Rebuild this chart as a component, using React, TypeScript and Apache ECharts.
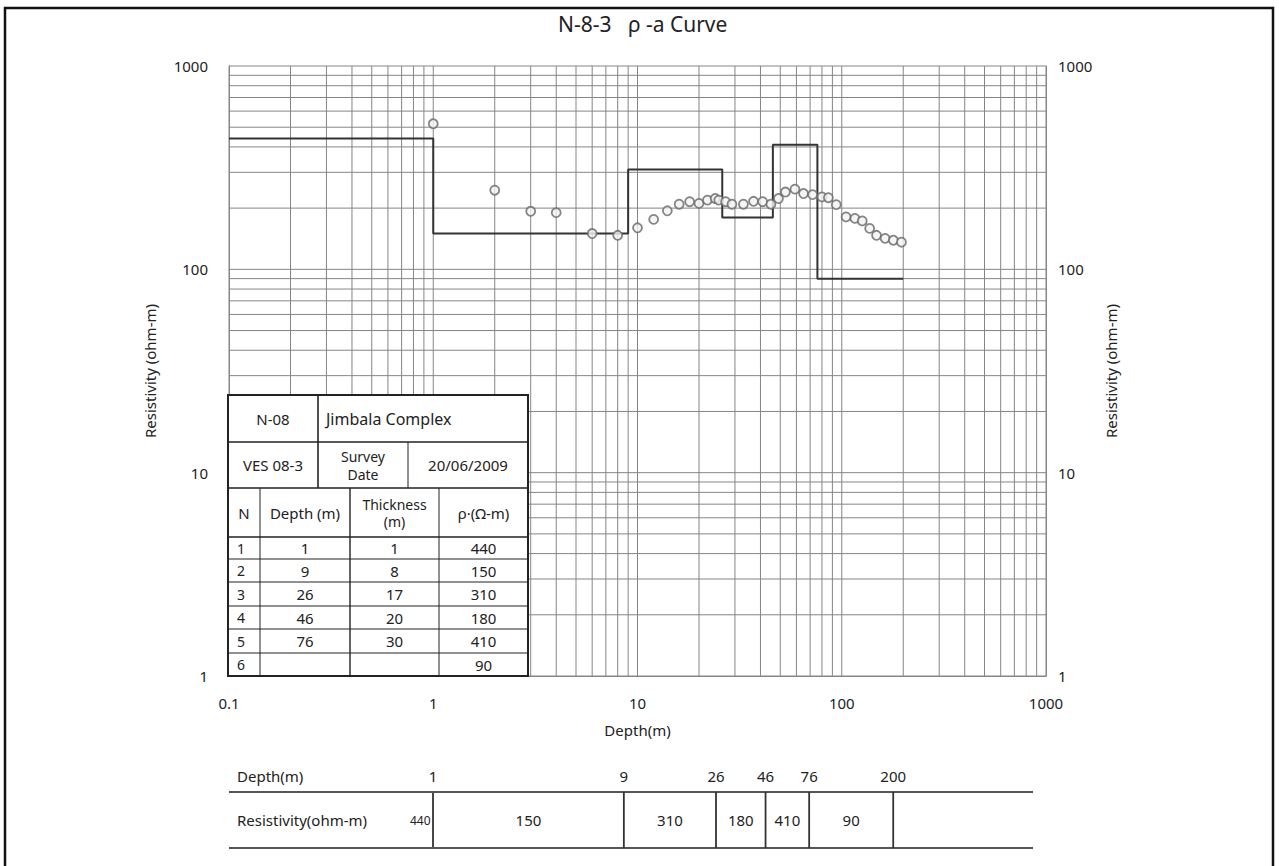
import React, { useEffect, useRef } from "react";
import * as echarts from "echarts";

// ---------- data ----------
const TITLE = "N-8-3   ρ -a Curve";
const X_MIN = 0.1;
const X_MAX = 1000;
const Y_MIN = 1;
const Y_MAX = 1000;

// layered model (table)
const LAYER_N = [1, 2, 3, 4, 5, 6];
const LAYER_DEPTH = [1, 9, 26, 46, 76]; // bottom depth of each layer (m)
const LAYER_THICK = [1, 8, 17, 20, 30];
const LAYER_RHO = [440, 150, 310, 180, 410, 90];
const MODEL_START = 0.1;
const MODEL_END = 200;

// observed apparent resistivity
const OBS_DEPTH = [1, 2, 3, 4, 6, 8, 10, 12, 14, 16, 18, 20, 22, 24, 25, 27, 29, 33, 37, 41, 45, 49, 53, 59, 65, 72, 80, 86, 94, 105, 116, 126, 137, 148, 163, 179, 196];
const OBS_RHO = [520, 245, 193, 190, 150, 147, 160, 176, 194, 209, 215, 211, 219, 223, 219, 215, 209, 209, 216, 215, 209, 223, 240, 248, 236, 233, 227, 225, 208, 181, 178, 173, 159, 147, 142, 139, 136];

const SITE = "N-08";
const SITE_NAME = "Jimbala Complex";
const VES = "VES 08-3";
const SURVEY_LABEL = "Survey\nDate";
const SURVEY_DATE = "20/06/2009";
const HEADERS = ["N", "Depth (m)", "Thickness\n(m)", "ρ·(Ω-m)"];

const FONT = "Noto Sans, Liberation Sans, Arial, sans-serif";
const TXT = "#222";

export default function App() {
  const ref = useRef<HTMLDivElement>(null);

  useEffect(() => {
    if (!ref.current) return;
    const chart = echarts.init(ref.current, null, { renderer: "svg" });

    // grid line positions (1..9 x decades)
    const vGrid: number[] = [];
    for (let e = -1; e < 3; e++) for (let m = 1; m <= 9; m++) vGrid.push(Number((m * Math.pow(10, e)).toPrecision(6)));
    vGrid.push(X_MAX);
    const hGrid: number[] = [];
    for (let e = 0; e < 3; e++) for (let m = 1; m <= 9; m++) hGrid.push(Number((m * Math.pow(10, e)).toPrecision(6)));
    hGrid.push(Y_MAX);

    // step model curve
    const bounds = [MODEL_START, ...LAYER_DEPTH, MODEL_END];
    const step: number[][] = [];
    LAYER_RHO.forEach((r, i) => {
      step.push([bounds[i], r]);
      step.push([bounds[i + 1], r]);
    });
    const obs = OBS_DEPTH.map((d, i) => [d, OBS_RHO[i]]);
    const bottomBounds = [...LAYER_DEPTH, MODEL_END];

    // ---- inset table (graphic) ----
    const g: any[] = [];
    const ln = (x1: number, y1: number, x2: number, y2: number, w = 1, c = "#222") =>
      g.push({ type: "line", z: 100, shape: { x1, y1, x2, y2 }, style: { stroke: c, lineWidth: w } });
    const tx = (x: number, y: number, text: string, align = "center", size = 15, lh = 18) =>
      g.push({
        type: "text", z: 101, x, y,
        style: { text, fill: TXT, font: `${size}px ${FONT}`, textAlign: align, textVerticalAlign: "middle", lineHeight: lh },
      });

    const TX0 = 228, TX1 = 528;
    const rows = [395, 442, 488, 537, 559, 582, 606, 629, 653, 676];
    g.push({ type: "rect", z: 99, shape: { x: TX0, y: rows[0], width: TX1 - TX0, height: rows[9] - rows[0] }, style: { fill: "#fff", stroke: "#222", lineWidth: 2 } });
    for (let i = 1; i < rows.length - 1; i++) ln(TX0, rows[i], TX1, rows[i], i <= 3 ? 1.6 : 1);
    ln(318, rows[0], 318, rows[2], 1.6);
    ln(408, rows[1], 408, rows[2], 1);
    [260, 350, 439].forEach((x) => ln(x, rows[2], x, rows[9], x === 350 ? 1.4 : 1));
    tx(273, (rows[0] + rows[1]) / 2, SITE);
    tx(326, (rows[0] + rows[1]) / 2, SITE_NAME, "left", 16);
    tx(273, (rows[1] + rows[2]) / 2, VES);
    tx(363, (rows[1] + rows[2]) / 2, SURVEY_LABEL, "center", 14, 18);
    tx(468, (rows[1] + rows[2]) / 2, SURVEY_DATE);
    const colC = [244, 305, 394.5, 483.5];
    HEADERS.forEach((h, i) => tx(colC[i], (rows[2] + rows[3]) / 2, h, "center", i === 2 ? 14 : 15, 17));
    LAYER_N.forEach((n, i) => {
      const y = (rows[3 + i] + rows[4 + i]) / 2;
      tx(237, y, String(n), "left", 14);
      if (i < LAYER_DEPTH.length) tx(colC[1], y, String(LAYER_DEPTH[i]), "center", 15);
      if (i < LAYER_THICK.length) tx(colC[2], y, String(LAYER_THICK[i]), "center", 15);
      tx(colC[3], y, String(LAYER_RHO[i]), "center", 15);
    });

    // bottom strip labels
    tx(237, 776, "Depth(m)", "left", 15);
    tx(237, 820, "Resistivity(ohm-m)", "left", 15);
    tx(410, 820, String(LAYER_RHO[0]), "left", 12);

    // outer frame
    g.push({ type: "rect", z: 90, shape: { x: 5, y: 8, width: 1268, height: 880 }, style: { fill: "none", stroke: "#111", lineWidth: 2.5 } });

    const axisLabel = { color: TXT, fontSize: 15, fontFamily: FONT, formatter: (v: number) => String(v) };
    const nameStyle = { color: TXT, fontSize: 15, fontFamily: FONT };

    chart.setOption({
      animation: false,
      backgroundColor: "#fff",
      title: {
        text: TITLE, left: 553, top: 8,
        textStyle: { fontSize: 21, fontWeight: "normal", color: TXT, fontFamily: FONT },
      },
      grid: [
        { left: 229, right: 233, top: 66, bottom: 190 },
        { left: 233, width: 800, top: 792, height: 56 },
      ],
      xAxis: [
        {
          type: "log", logBase: 10, min: X_MIN, max: X_MAX, gridIndex: 0,
          name: "Depth(m)", nameLocation: "middle", nameGap: 46, nameTextStyle: nameStyle,
          axisLine: { show: true, lineStyle: { color: "#888" } },
          axisTick: { show: false }, splitLine: { show: false },
          axisLabel: { ...axisLabel, margin: 19 },
        },
        {
          type: "log", logBase: 10, min: X_MIN, max: X_MAX, gridIndex: 1, show: false,
        },
      ],
      yAxis: [
        {
          type: "log", logBase: 10, min: Y_MIN, max: Y_MAX, gridIndex: 0, position: "left",
          name: "Resistivity (ohm-m)", nameLocation: "middle", nameGap: 72, nameTextStyle: nameStyle,
          axisLine: { show: true, lineStyle: { color: "#888" } },
          axisTick: { show: false }, splitLine: { show: false },
          axisLabel: { ...axisLabel, margin: 21 },
        },
        {
          type: "log", logBase: 10, min: Y_MIN, max: Y_MAX, gridIndex: 0, position: "right",
          name: "Resistivity (ohm-m)", nameLocation: "middle", nameGap: 52, nameTextStyle: nameStyle,
          axisLine: { show: true, lineStyle: { color: "#888" } },
          axisTick: { show: false }, splitLine: { show: false },
          axisLabel: { ...axisLabel, margin: 12 },
        },
        { type: "value", min: 0, max: 1, gridIndex: 1, show: false },
      ],
      graphic: g,
      series: [
        {
          type: "custom", xAxisIndex: 0, yAxisIndex: 0, silent: true, z: 1,
          data: vGrid.map((v) => [v, 10]),
          renderItem: (params: any, api: any) => {
            const cs = params.coordSys;
            const p = api.coord([api.value(0), 10]);
            return { type: "line", shape: { x1: p[0], y1: cs.y, x2: p[0], y2: cs.y + cs.height }, style: { stroke: "#858585", lineWidth: 1 } };
          },
        },
        {
          type: "custom", xAxisIndex: 0, yAxisIndex: 0, silent: true, z: 1,
          data: hGrid.map((v) => [1, v]),
          renderItem: (params: any, api: any) => {
            const cs = params.coordSys;
            const p = api.coord([1, api.value(1)]);
            return { type: "line", shape: { x1: cs.x, y1: p[1], x2: cs.x + cs.width, y2: p[1] }, style: { stroke: "#858585", lineWidth: 1 } };
          },
        },
        {
          type: "line", xAxisIndex: 0, yAxisIndex: 0, data: step, showSymbol: false, symbol: "none", z: 3,
          lineStyle: { color: "#333", width: 2 },
        },
        {
          type: "scatter", xAxisIndex: 0, yAxisIndex: 0, data: obs, symbol: "circle", symbolSize: 9, z: 4,
          itemStyle: { color: "#f2f2f2", borderColor: "#666", borderWidth: 1.8 },
        },
        {
          type: "custom", xAxisIndex: 1, yAxisIndex: 2, silent: true, z: 5,
          data: bottomBounds.map((d) => [d, 0.5]),
          renderItem: (params: any, api: any) => {
            const cs = params.coordSys;
            const i = params.dataIndex;
            const x = api.coord([bottomBounds[i], 0.5])[0];
            const children: any[] = [
              { type: "line", shape: { x1: x, y1: cs.y, x2: x, y2: cs.y + cs.height }, style: { stroke: "#333", lineWidth: 1.8 } },
              { type: "text", x, y: cs.y - 16, style: { text: String(bottomBounds[i]), fill: TXT, font: `15px ${FONT}`, textAlign: "center", textVerticalAlign: "middle" } },
            ];
            if (i + 1 < bottomBounds.length) {
              const x2 = api.coord([bottomBounds[i + 1], 0.5])[0];
              children.push({ type: "text", x: (x + x2) / 2, y: cs.y + 28, style: { text: String(LAYER_RHO[i + 1]), fill: TXT, font: `15px ${FONT}`, textAlign: "center", textVerticalAlign: "middle" } });
            }
            if (i === 0) {
              children.push({ type: "line", shape: { x1: cs.x - 4, y1: cs.y, x2: cs.x + cs.width, y2: cs.y }, style: { stroke: "#555", lineWidth: 2 } });
              children.push({ type: "line", shape: { x1: cs.x - 4, y1: cs.y + cs.height, x2: cs.x + cs.width, y2: cs.y + cs.height }, style: { stroke: "#555", lineWidth: 2 } });
            }
            return { type: "group", children };
          },
        },
      ],
    });

    return () => chart.dispose();
  }, []);

  return <div ref={ref} style={{ position: "absolute", left: 0, top: 0, width: 1279, height: 866 }} />;
}
